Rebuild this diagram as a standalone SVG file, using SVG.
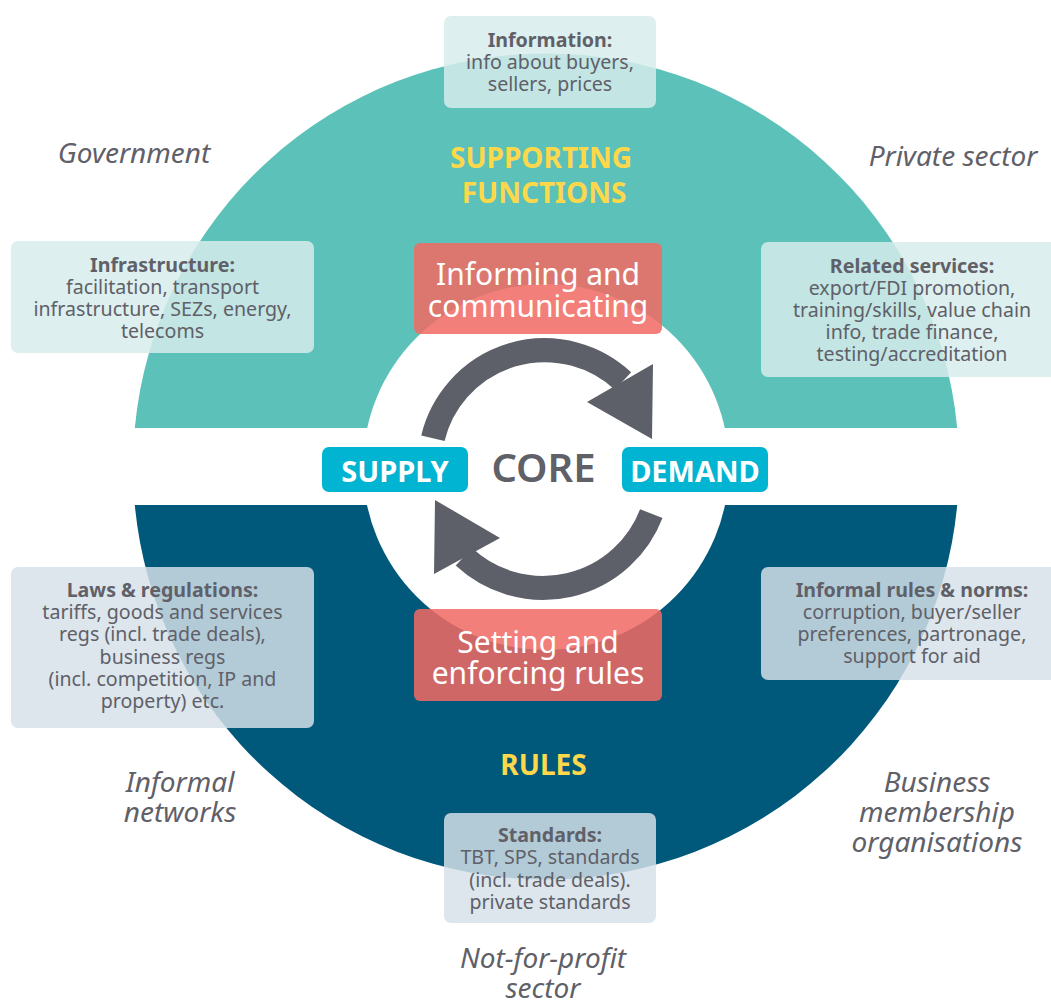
<svg xmlns="http://www.w3.org/2000/svg" width="1051" height="1001" viewBox="0 0 1051 1001">
<style>
text{font-family:"Noto Sans","Open Sans",sans-serif;text-anchor:middle}
.box-t{fill:#D6ECEB;fill-opacity:0.84}
.box-b{fill:#D5E1E8;fill-opacity:0.84}
.bt{font-size:19.6px;fill:#5F6068}
.bt .h{font-weight:bold}
.red{fill:#F16A64;fill-opacity:0.86}
.rt{font-size:30px;fill:#FFFFFF}
.cyan{fill:#00B4D2}
.ct{font-size:29px;font-weight:bold;fill:#FFFFFF}
.yel{font-size:28px;font-weight:bold;fill:#FDD84B}
.it{font-size:28px;font-style:italic;fill:#5F6068}
.arc{fill:none;stroke:#5E6069;stroke-width:24}
.head{fill:#5E6069}
</style>
<rect width="1051" height="1001" fill="#FFFFFF"/>
<g id="background">
<path d="M134.8 428 A413 413 0 0 1 957.2 428 Z" fill="#5CC2B9"/>
<path d="M957.2 505 A413 413 0 0 1 134.8 505 Z" fill="#00587B"/>
<circle cx="546" cy="467" r="183" fill="#FFFFFF"/>
</g>
<g id="connectors">
<path class="arc" d="M432.9 438.2 A115 115 0 0 1 623 381"/>
<polygon class="head" points="653,364 587,402 652,439"/>
<path class="arc" d="M651.3 513.6 A116 116 0 0 1 463.9 556.8"/>
<polygon class="head" points="435,500 500,538 434,574"/>
</g>
<g id="core">
<text x="543.5" y="482" style="font-size:40px;font-weight:600;fill:#5F6068">CORE</text>
</g>
<g id="supply">
<rect class="cyan" x="322" y="447" width="146" height="45" rx="7"/>
<text class="ct" x="395" y="482">SUPPLY</text>
</g>
<g id="demand">
<rect class="cyan" x="622" y="447" width="146" height="45" rx="7"/>
<text class="ct" x="695" y="482">DEMAND</text>
</g>
<g id="supporting-functions">
<text class="yel" x="541" y="168">SUPPORTING</text>
<text class="yel" x="544" y="203">FUNCTIONS</text>
</g>
<g id="rules">
<text class="yel" x="543.5" y="775">RULES</text>
</g>
<g id="informing">
<rect class="red" x="414" y="243" width="248" height="91" rx="6"/>
<text class="rt" x="538" y="285">Informing and</text>
<text class="rt" x="538" y="317">communicating</text>
</g>
<g id="setting">
<rect class="red" x="414" y="609" width="248" height="92" rx="6"/>
<text class="rt" x="538" y="653">Setting and</text>
<text class="rt" x="538" y="684">enforcing rules</text>
</g>
<g id="information">
<rect class="box-t" x="444" y="16" width="212" height="92" rx="7"/>
<text class="bt" x="550" y="47"><tspan class="h">Information:</tspan><tspan x="550" dy="22">info about buyers,</tspan><tspan x="550" dy="22">sellers, prices</tspan></text>
</g>
<g id="infrastructure">
<rect class="box-t" x="11" y="241" width="303" height="112" rx="7"/>
<text class="bt" x="162.5" y="272"><tspan class="h">Infrastructure:</tspan><tspan x="162.5" dy="22">facilitation, transport</tspan><tspan x="162.5" dy="22">infrastructure, SEZs, energy,</tspan><tspan x="162.5" dy="22">telecoms</tspan></text>
</g>
<g id="related-services">
<rect class="box-t" x="761" y="242" width="302" height="135" rx="7"/>
<text class="bt" x="912" y="273"><tspan class="h">Related services:</tspan><tspan x="912" dy="22">export/FDI  promotion,</tspan><tspan x="912" dy="22">training/skills, value chain</tspan><tspan x="912" dy="22">info, trade finance,</tspan><tspan x="912" dy="22">testing/accreditation</tspan></text>
</g>
<g id="laws">
<rect class="box-b" x="11" y="567" width="303" height="161" rx="7"/>
<text class="bt" x="162.5" y="597"><tspan class="h">Laws &amp; regulations:</tspan><tspan x="162.5" dy="22.2">tariffs, goods and services</tspan><tspan x="162.5" dy="22.2">regs (incl. trade deals),</tspan><tspan x="162.5" dy="22.2">business regs</tspan><tspan x="162.5" dy="22.2">(incl. competition, IP and</tspan><tspan x="162.5" dy="22.2">property) etc.</tspan></text>
</g>
<g id="informal-rules">
<rect class="box-b" x="761" y="567" width="302" height="113" rx="7"/>
<text class="bt" x="912" y="597"><tspan class="h">Informal rules &amp; norms:</tspan><tspan x="912" dy="22">corruption, buyer/seller</tspan><tspan x="912" dy="22">preferences, partronage,</tspan><tspan x="912" dy="22">support for aid</tspan></text>
</g>
<g id="standards">
<rect class="box-b" x="444" y="813" width="212" height="110" rx="7"/>
<text class="bt" x="550" y="842"><tspan class="h">Standards:</tspan><tspan x="550" dy="22.3">TBT, SPS, standards</tspan><tspan x="550" dy="22.3">(incl. trade deals).</tspan><tspan x="550" dy="22.3">private standards</tspan></text>
</g>
<g id="government"><text class="it" x="134" y="163">Government</text></g>
<g id="private-sector"><text class="it" x="953" y="166">Private sector</text></g>
<g id="informal-networks"><text class="it" x="180" y="792">Informal<tspan x="180" dy="30">networks</tspan></text></g>
<g id="business-membership"><text class="it" x="937" y="792">Business<tspan x="937" dy="30">membership</tspan><tspan x="937" dy="30">organisations</tspan></text></g>
<g id="not-for-profit"><text class="it" x="543" y="968">Not-for-profit<tspan x="543" dy="30">sector</tspan></text></g>
</svg>
